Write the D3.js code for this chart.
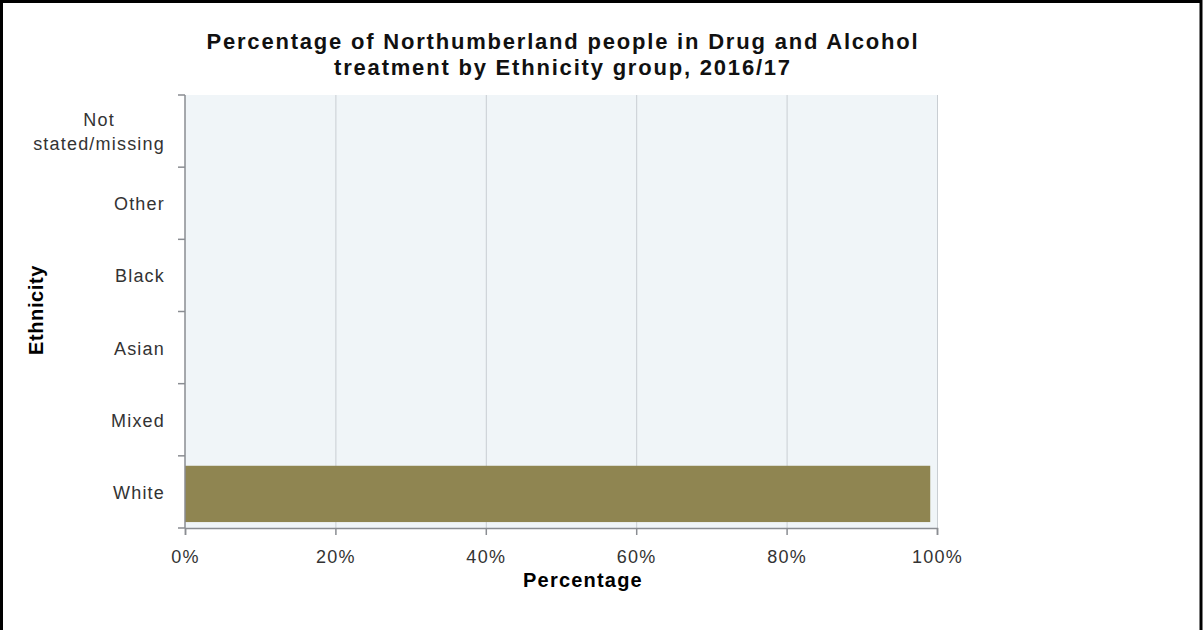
<!DOCTYPE html>
<html>
<head>
<meta charset="utf-8">
<script src="https://cdn.jsdelivr.net/npm/d3@7"></script>
<style>
  html, body { margin: 0; padding: 0; background: #fff; }
  svg { display: block; }
</style>
</head>
<body>
<svg id="chart" width="1204" height="630"></svg>
<script>
// Ethnicity groups, top to bottom
const categories = ["Not stated/missing", "Other", "Black", "Asian", "Mixed", "White"];
// Share of people in treatment (%)
const values = [0, 0, 0, 0, 0, 99.1];
const xTicks = [0, 20, 40, 60, 80, 100];
const titleLines = [
  "Percentage of Northumberland people in Drug and Alcohol",
  "treatment by Ethnicity group, 2016/17"
];

const svg = d3.select("#chart");
const plot = { left: 185, top: 95, right: 937, bottom: 528 };
const font = "'Liberation Sans', Arial, sans-serif";
const axisGrey = "#8a8d92";

// outer frame
svg.append("rect")
  .attr("x", 1.5).attr("y", 1.5)
  .attr("width", 1199.5).attr("height", 700)
  .attr("fill", "none").attr("stroke", "#000").attr("stroke-width", 3);

const x = d3.scaleLinear().domain([0, 100]).range([plot.left, plot.right]);
const y = d3.scaleBand().domain(categories).range([plot.top, plot.bottom])
  .paddingInner(0.22).paddingOuter(0.11);
const yBand = d3.scaleBand().domain(categories).range([plot.top, plot.bottom]);

// plot background
svg.append("rect")
  .attr("x", plot.left).attr("y", plot.top)
  .attr("width", plot.right - plot.left).attr("height", plot.bottom - plot.top)
  .attr("fill", "#f0f5f8");

// vertical gridlines
svg.append("g").selectAll("line")
  .data(xTicks.filter(d => d > 0))
  .join("line")
  .attr("x1", d => x(d) + 0.5).attr("x2", d => x(d) + 0.5)
  .attr("y1", plot.top).attr("y2", plot.bottom)
  .attr("stroke", "#c9ced3").attr("stroke-width", 1);

// bars
svg.append("g").selectAll("rect")
  .data(categories.map((c, i) => ({ c, v: values[i] })))
  .join("rect")
  .attr("x", x(0))
  .attr("y", d => y(d.c) + 2)
  .attr("width", d => x(d.v) - x(0))
  .attr("height", y.bandwidth())
  .attr("fill", "#8f8551");

// x axis
const xAxis = svg.append("g")
  .attr("transform", `translate(0,${plot.bottom})`)
  .call(d3.axisBottom(x).tickValues(xTicks).tickFormat(d => d + "%").tickSizeOuter(0).tickSize(7));
xAxis.select(".domain").attr("stroke", axisGrey).attr("stroke-width", 1.5);
xAxis.selectAll(".tick line").attr("stroke", axisGrey).attr("stroke-width", 1.5);
xAxis.selectAll(".tick text")
  .attr("font-family", font).attr("font-size", 18).attr("fill", "#333")
  .attr("letter-spacing", 1.3)
  .attr("dy", "0").attr("y", 35);

// y axis (ticks at band boundaries)
const boundaries = categories.map(c => yBand(c)).concat([plot.bottom]);
svg.append("line")
  .attr("x1", plot.left).attr("x2", plot.left)
  .attr("y1", plot.top).attr("y2", plot.bottom)
  .attr("stroke", axisGrey).attr("stroke-width", 1.5);
svg.append("g").selectAll("line")
  .data(boundaries)
  .join("line")
  .attr("x1", plot.left - 7).attr("x2", plot.left)
  .attr("y1", d => d).attr("y2", d => d)
  .attr("stroke", axisGrey).attr("stroke-width", 1.5);

// y category labels, wrapped lines centred within a right-aligned block
const labelRight = 165;
const wrap = { "Not stated/missing": ["Not", "stated/missing"] };
categories.forEach(c => {
  const lines = wrap[c] || [c];
  const cy = yBand(c) + yBand.bandwidth() / 2;
  const g = svg.append("g");
  const texts = lines.map((ln, i) => g.append("text")
    .attr("font-family", font).attr("font-size", 18).attr("fill", "#333")
    .attr("letter-spacing", 1.2)
    .attr("y", cy + 7 + (i - (lines.length - 1) / 2) * 24)
    .text(ln));
  const widths = texts.map(t => t.node().getComputedTextLength());
  const maxW = Math.max(...widths);
  texts.forEach(t => t.attr("text-anchor", "middle").attr("x", labelRight - maxW / 2));
});

// axis titles
svg.append("text")
  .attr("x", 583).attr("y", 587)
  .attr("text-anchor", "middle")
  .attr("font-family", font).attr("font-weight", "bold").attr("font-size", 20).attr("fill", "#000")
  .attr("letter-spacing", 1.2)
  .text("Percentage");

svg.append("text")
  .attr("transform", `translate(43,310) rotate(-90)`)
  .attr("text-anchor", "middle")
  .attr("font-family", font).attr("font-weight", "bold").attr("font-size", 20).attr("fill", "#000")
  .attr("letter-spacing", 0.6)
  .text("Ethnicity");

// chart title
titleLines.forEach((t, i) => {
  svg.append("text")
    .attr("x", 563).attr("y", 49 + i * 26)
    .attr("text-anchor", "middle")
    .attr("font-family", font).attr("font-weight", "bold").attr("font-size", 22).attr("fill", "#111")
    .attr("letter-spacing", 1.8)
    .text(t);
});
</script>
</body>
</html>
